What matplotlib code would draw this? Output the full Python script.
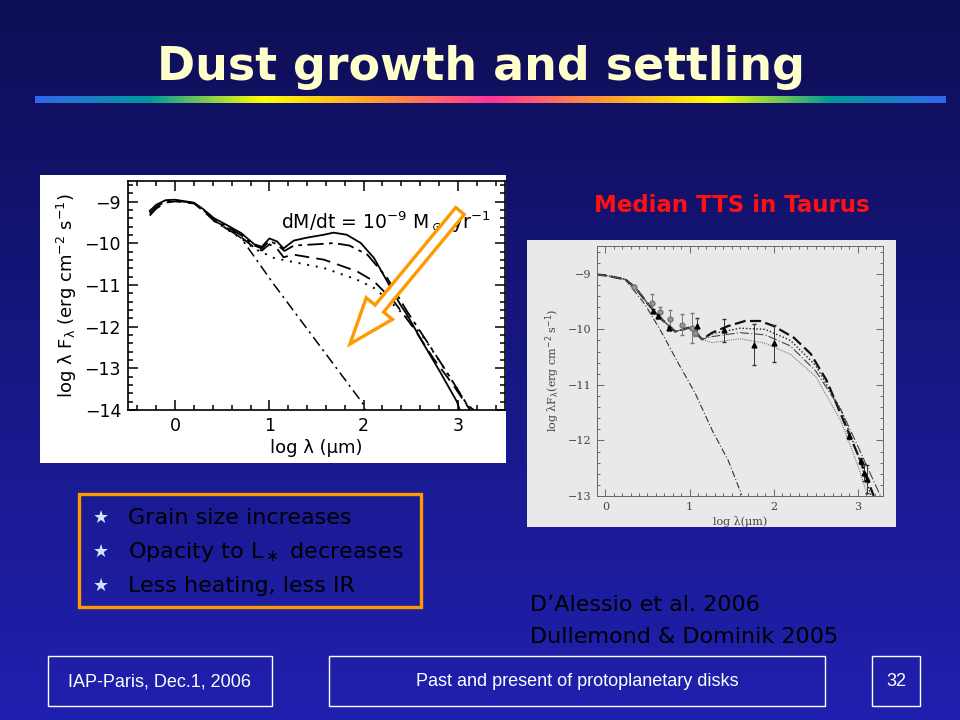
import numpy as np
import matplotlib
matplotlib.use("Agg")
import matplotlib.pyplot as plt
from matplotlib.colors import LinearSegmentedColormap
from matplotlib.patches import Rectangle, FancyArrow
from matplotlib.ticker import MultipleLocator

# ---- left plot: SED models with growing grains
sed_solid_x = [-0.27, -0.2, -0.1, 0.0, 0.2, 0.3, 0.41, 0.55, 0.7, 0.84, 0.92, 1.0, 1.08, 1.15,
               1.26, 1.4, 1.58, 1.68, 1.82, 1.97, 2.11, 2.25, 2.39, 2.46, 2.64, 2.81, 2.99, 3.02]
sed_solid_y = [-9.22, -9.07, -8.96, -8.95, -9.02, -9.18, -9.39, -9.56, -9.75, -10.02, -10.08, -9.88,
               -9.95, -10.12, -9.93, -9.86, -9.79, -9.74, -9.79, -9.99, -10.35, -10.91, -11.47,
               -11.71, -12.43, -13.08, -13.8, -14.0]
sed_dashdot_x = [-0.27, -0.2, -0.1, 0.0, 0.2, 0.3, 0.41, 0.55, 0.7, 0.84, 0.92, 1.0, 1.08, 1.16,
                 1.26, 1.5, 1.68, 1.85, 2.04, 2.25, 2.46, 2.67, 2.88, 3.1, 3.17]
sed_dashdot_y = [-9.28, -9.12, -8.99, -8.97, -9.03, -9.2, -9.42, -9.6, -9.8, -10.05, -10.12, -9.94,
                 -10.02, -10.18, -10.05, -10.02, -9.99, -10.05, -10.27, -10.83, -11.63, -12.35,
                 -13.08, -13.88, -14.0]
sed_dash_x = [-0.27, -0.2, -0.1, 0.0, 0.2, 0.3, 0.41, 0.55, 0.7, 0.84, 0.92, 1.0, 1.08, 1.15,
              1.26, 1.58, 1.93, 2.11, 2.32, 2.53, 2.74, 2.95, 3.13]
sed_dash_y = [-9.33, -9.16, -9.02, -8.99, -9.04, -9.22, -9.45, -9.65, -9.85, -10.1, -10.17, -10.02,
              -10.12, -10.33, -10.27, -10.39, -10.67, -10.91, -11.39, -12.03, -12.76, -13.4, -14.0]
sed_dot_x = [0.41, 0.55, 0.7, 0.84, 0.92, 0.98, 1.05, 1.22, 1.58, 1.93, 2.11, 2.28, 2.46, 2.64,
             2.81, 2.99, 3.13]
sed_dot_y = [-9.45, -9.66, -9.88, -10.12, -10.22, -10.27, -10.35, -10.43, -10.59, -10.87, -11.07,
             -11.39, -11.79, -12.27, -12.84, -13.48, -14.0]
star_x = [0.41, 0.55, 0.7, 1.05, 1.4, 1.75, 2.0, 2.02]
star_y = [-9.45, -9.62, -9.87, -10.99, -12.05, -13.11, -13.87, -14.0]

# ---- right plot: median Taurus SED
r_common_x = [-0.12, 0.0, 0.235, 0.355, 0.51, 0.67, 0.83, 0.93, 0.99, 1.07, 1.15]
r_common_y = [-9.01, -9.03, -9.1, -9.25, -9.55, -9.82, -10.04, -10.0, -9.97, -10.06, -10.18]
r_bold_x = [1.27, 1.46, 1.66, 1.84, 2.0, 2.24, 2.44, 2.63, 2.83, 3.03, 3.19]
r_bold_y = [-10.06, -9.94, -9.85, -9.85, -9.94, -10.15, -10.44, -10.92, -11.64, -12.36, -13.0]
r_dot_x = [1.27, 1.6, 1.9, 2.2, 2.5, 2.8, 3.0, 3.16]
r_dot_y = [-10.08, -9.98, -10.0, -10.2, -10.65, -11.45, -12.25, -13.0]
r_ldash_x = [1.27, 1.6, 1.9, 2.2, 2.5, 2.8, 3.0, 3.27]
r_ldash_y = [-10.13, -10.06, -10.1, -10.3, -10.75, -11.45, -12.1, -13.0]
r_fdot_x = [1.27, 1.6, 1.9, 2.2, 2.5, 2.8, 3.0, 3.12]
r_fdot_y = [-10.24, -10.17, -10.25, -10.45, -10.85, -11.65, -12.45, -13.0]
r_star_x = [0.235, 0.47, 0.67, 0.87, 1.07, 1.27, 1.46, 1.62]
r_star_y = [-9.1, -9.55, -10.06, -10.62, -11.16, -11.82, -12.36, -12.98]

obs_circ_x = [0.345, 0.55, 0.65, 0.77, 0.91, 1.03, 1.07]
obs_circ_y = [-9.24, -9.53, -9.69, -9.81, -9.92, -9.98, -10.07]
obs_circ_e = [0.03, 0.17, 0.09, 0.16, 0.19, 0.27, 0.05]
obs_tri_x = [0.57, 0.63, 0.75, 1.09, 1.41, 1.77, 2.0, 2.89, 3.04, 3.08, 3.11]
obs_tri_y = [-9.67, -9.76, -9.98, -9.94, -10.02, -10.28, -10.25, -11.92, -12.37, -12.58, -12.7]
obs_tri_e = [0.03, 0.03, 0.03, 0.14, 0.2, 0.37, 0.33, 0.05, 0.05, 0.15, 0.25]

bullets = ["Grain size increases", r"Opacity to L$_\ast$ decreases", "Less heating, less IR"]
refs = ["D\u2019Alessio et al. 2006", "Dullemond & Dominik 2005"]
footer = ["IAP-Paris, Dec.1, 2006", "Past and present of protoplanetary disks", "32"]

W, H = 960, 720
fig = plt.figure(figsize=(9.6, 7.2), dpi=100)

# background: dark navy at the top, brighter blue at the bottom
bg = fig.add_axes([0, 0, 1, 1], zorder=0)
bg.set_xlim(0, W)
bg.set_ylim(H, 0)
bg.axis("off")
grad = LinearSegmentedColormap.from_list("bg", ["#0e0e55", "#2020b0"])
bg.imshow(np.linspace(0, 1, 256).reshape(-1, 1), cmap=grad, aspect="auto",
          extent=[0, W, H, 0], zorder=0)
# panels behind the two plots
bg.add_patch(Rectangle((40, 175), 466, 288, fc="white", ec="none", zorder=1))
bg.add_patch(Rectangle((527, 240), 369, 287, fc="#e9e9e9", ec="none", zorder=1))

# ---- left plot
ax1 = fig.add_axes([128 / W, 1 - 410 / H, 377 / W, 229 / H], zorder=1)
ax1.plot(sed_solid_x, sed_solid_y, color="k", lw=1.3)
ax1.plot(sed_dashdot_x, sed_dashdot_y, color="k", lw=1.3, dashes=(9, 3, 2, 3))
ax1.plot(sed_dash_x, sed_dash_y, color="k", lw=1.3, dashes=(8, 4))
ax1.plot(sed_dot_x, sed_dot_y, color="k", lw=1.4, dashes=(1, 3.5))
ax1.plot(star_x, star_y, color="k", lw=1.1, dashes=(7, 3, 1.5, 3))
ax1.set_xlim(-0.5, 3.5)
ax1.set_ylim(-14, -8.5)
ax1.xaxis.set_major_locator(MultipleLocator(1))
ax1.xaxis.set_minor_locator(MultipleLocator(0.2))
ax1.yaxis.set_major_locator(MultipleLocator(1))
ax1.yaxis.set_minor_locator(MultipleLocator(0.2))
ax1.tick_params(which="both", direction="in", top=True, right=True, width=1.1)
ax1.tick_params(which="major", length=7, labelsize=12.5, pad=5)
ax1.tick_params(which="minor", length=3.5)
for s in ax1.spines.values():
    s.set_linewidth(1.2)
ax1.set_xlabel("log λ (μm)", fontsize=13, labelpad=3)
ax1.set_ylabel(r"log λ F$_\mathrm{\lambda}$ (erg cm$^{-2}$ s$^{-1}$)", fontsize=13, labelpad=4)
ax1.text(1.12, -9.5, r"dM/dt = 10$^{-9}$ M$_\odot$ yr$^{-1}$", fontsize=13.5, va="center")

# ---- right plot
ax2 = fig.add_axes([597 / W, 1 - 496 / H, 286 / W, 250 / H], zorder=1)
ax2.set_facecolor("#e9e9e9")
ax2.plot(r_common_x + r_bold_x, r_common_y + r_bold_y, color="#111", lw=1.6, dashes=(5, 2))
ax2.plot(r_common_x + r_dot_x, r_common_y + r_dot_y, color="#222", lw=1.0, dashes=(1, 1.5))
ax2.plot(r_common_x + r_ldash_x, r_common_y + r_ldash_y, color="#444", lw=0.8, dashes=(8, 2, 1, 2))
ax2.plot(r_common_x + r_fdot_x, r_common_y + r_fdot_y, color="#777", lw=0.8, dashes=(1, 1))
ax2.plot(r_star_x, r_star_y, color="#333", lw=0.8, dashes=(6, 2, 1, 2))
ax2.errorbar(obs_circ_x, obs_circ_y, yerr=obs_circ_e, fmt="o", ms=3.5, mfc="#999", mec="#777",
             ecolor="#777", elinewidth=0.7, capsize=1.5)
ax2.errorbar(obs_tri_x, obs_tri_y, yerr=obs_tri_e, fmt="^", ms=3.5, mfc="k", mec="k",
             ecolor="#333", elinewidth=0.7, capsize=1.5)
ax2.set_xlim(-0.1, 3.3)
ax2.set_ylim(-13, -8.5)
ax2.xaxis.set_major_locator(MultipleLocator(1))
ax2.xaxis.set_minor_locator(MultipleLocator(0.1))
ax2.yaxis.set_major_locator(MultipleLocator(1))
ax2.yaxis.set_minor_locator(MultipleLocator(0.2))
ax2.tick_params(which="both", direction="in", top=True, right=True, width=0.6, colors="#555")
ax2.tick_params(which="major", length=5, labelsize=8, pad=4, labelcolor="#444")
ax2.tick_params(which="minor", length=2.5)
for lab in ax2.get_xticklabels() + ax2.get_yticklabels():
    lab.set_family("DejaVu Serif")
for s in ax2.spines.values():
    s.set_linewidth(0.7)
    s.set_color("#666")
ax2.set_xlabel("log λ(μm)", fontsize=8, family="DejaVu Serif", color="#444", labelpad=3)
ax2.set_ylabel(r"log λF$_\mathrm{\lambda}$(erg cm$^{-2}$ s$^{-1}$)", fontsize=8,
               family="DejaVu Serif", color="#444", labelpad=4)

# ---- overlay: title, bar, arrow, boxes and text
ov = fig.add_axes([0, 0, 1, 1], zorder=3)
ov.set_xlim(0, W)
ov.set_ylim(H, 0)
ov.axis("off")

ov.text(481, 80, "Dust growth and settling", fontsize=33, fontweight="bold", color="#ffffcc",
        ha="center", va="baseline")
rainbow = LinearSegmentedColormap.from_list(
    "rb", ["#3366ee", "#009999", "#ffff00", "#ff9933", "#ff3399",
           "#ff9933", "#ffff00", "#009999", "#3366ee"])
ov.imshow(np.linspace(0, 1, 512).reshape(1, -1), cmap=rainbow, aspect="auto",
          extent=[35, 946, 103, 96], zorder=2)

ov.add_patch(FancyArrow(460, 211, -110, 133, width=11, head_width=34, head_length=46,
                        length_includes_head=True, fc="white", ec="#ff9900", lw=2.4, zorder=4))

ov.text(732, 206, "Median TTS in Taurus", fontsize=16.5, fontweight="bold", color="#ff1111",
        ha="center", va="center")

ov.add_patch(Rectangle((79, 494), 342, 113, fc="none", ec="#ff9900", lw=2.4))
for i, b in enumerate(bullets):
    yy = 518 + 34 * i
    ov.text(101, yy, "\u2605", fontsize=13, color="#cce5ff", ha="center", va="center")
    ov.text(128, yy, b, fontsize=16, color="black", ha="left", va="center")

for i, r in enumerate(refs):
    ov.text(530, 605 + 32 * i, r, fontsize=16, color="black", ha="left", va="center")

boxes = [(48, 224), (329, 496), (872, 48)]
for (x0, w), t in zip(boxes, footer):
    ov.add_patch(Rectangle((x0, 656), w, 50, fc="none", ec="white", lw=1))
    ov.text(x0 + w / 2, 682, t, fontsize=13, color="white", ha="center", va="center",
            family="Liberation Sans")

fig.savefig("out.png", dpi=100)
